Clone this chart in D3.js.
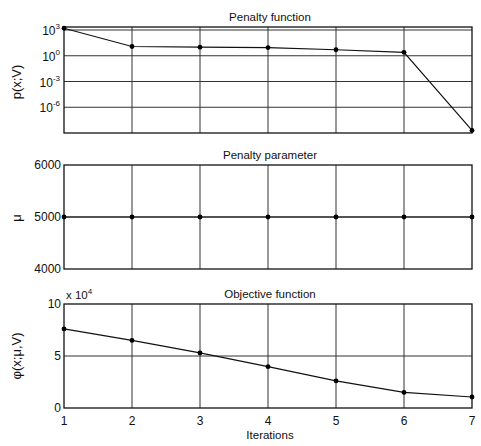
<!DOCTYPE html>
<html>
<head>
<meta charset="utf-8">
<script src="https://cdn.jsdelivr.net/npm/d3@7"></script>
<style>
  body { margin: 0; background: #fff; }
  text { font-family: "Liberation Sans", Arial, sans-serif; fill: #111; }
</style>
</head>
<body>
<svg id="chart" width="481" height="446"></svg>
<script>
// values
var iterations = [1, 2, 3, 4, 5, 6, 7];
var penaltyFn = [1600, 12, 10, 9, 5, 2.5, 2e-9];
var penaltyParam = [5000, 5000, 5000, 5000, 5000, 5000, 5000];
var objective = [76000, 65000, 53000, 39700, 26000, 15000, 10600];
var penaltyTicks = [1e3, 1, 1e-3, 1e-6];
var penaltyTickExp = ["3", "0", "-3", "-6"];
var paramTicks = [4000, 5000, 6000];
var objTicks = [0, 5, 10];

var svg = d3.select("#chart");
var left = 64, right = 472;
var x = d3.scaleLinear().domain([1, 7]).range([left, right]);

function panel(top, bottom, y, yticks, title) {
  var g = svg.append("g");
  // vertical grid
  g.selectAll("line.vg").data(iterations.slice(1, -1)).enter().append("line")
    .attr("x1", d => x(d)).attr("x2", d => x(d))
    .attr("y1", top).attr("y2", bottom)
    .attr("stroke", "#333").attr("stroke-width", 1);
  // horizontal grid
  g.selectAll("line.hg").data(yticks).enter().append("line")
    .attr("x1", left).attr("x2", right)
    .attr("y1", d => y(d)).attr("y2", d => y(d))
    .attr("stroke", "#333").attr("stroke-width", 1);
  g.append("rect")
    .attr("x", left).attr("y", top)
    .attr("width", right - left).attr("height", bottom - top)
    .attr("fill", "none").attr("stroke", "#111").attr("stroke-width", 1.3);
  svg.append("text")
    .attr("x", (left + right) / 2 + 2).attr("y", top - 6)
    .attr("text-anchor", "middle").attr("font-size", 11.5)
    .text(title);
  return g;
}

function series(g, y, vals) {
  var pts = iterations.map((d, i) => [x(d), y(vals[i])]);
  g.append("path")
    .attr("d", d3.line()(pts))
    .attr("fill", "none").attr("stroke", "#111").attr("stroke-width", 1.2);
  g.selectAll("circle").data(pts).enter().append("circle")
    .attr("cx", d => d[0]).attr("cy", d => d[1]).attr("r", 2.4)
    .attr("fill", "#000");
}

function ylabel(txt, cy) {
  svg.append("text")
    .attr("transform", "translate(21," + cy + ") rotate(-90)")
    .attr("text-anchor", "middle").attr("font-size", 13)
    .text(txt);
}

// panel 1: penalty function (log)
var y1 = d3.scaleLog().domain([1e-9, Math.pow(10, 3.35)]).range([133, 27]);
var g1 = panel(27, 133, y1, penaltyTicks, "Penalty function");
series(g1, y1, penaltyFn);
penaltyTicks.forEach(function (t, i) {
  var tx = svg.append("text")
    .attr("x", 60).attr("y", y1(t) + 5)
    .attr("text-anchor", "end").attr("font-size", 12);
  tx.append("tspan").text("10");
  tx.append("tspan").attr("dy", -6).attr("font-size", 8).text(penaltyTickExp[i]);
});
ylabel("p(x;V)", 82);

// panel 2: penalty parameter
var y2 = d3.scaleLinear().domain([4000, 6000]).range([269, 165]);
var g2 = panel(165, 269, y2, [5000], "Penalty parameter");
series(g2, y2, penaltyParam);
svg.selectAll("text.t2").data(paramTicks).enter().append("text")
  .attr("x", 61).attr("y", d => y2(d) + 4)
  .attr("text-anchor", "end").attr("font-size", 12)
  .text(d => d);
ylabel("\u03bc", 218);

// panel 3: objective function
var y3 = d3.scaleLinear().domain([0, 10]).range([408, 304]);
var g3 = panel(304, 408, y3, [5], "Objective function");
series(g3, y3, objective.map(v => v / 1e4));
svg.selectAll("text.t3").data(objTicks).enter().append("text")
  .attr("x", 61).attr("y", d => y3(d) + 4)
  .attr("text-anchor", "end").attr("font-size", 12)
  .text(d => d);
var ex = svg.append("text").attr("x", 66).attr("y", 299).attr("font-size", 11.5);
ex.append("tspan").text("x 10");
ex.append("tspan").attr("dy", -5).attr("font-size", 8).text("4");
ylabel("\u03c6(x;\u03bc,V)", 356);

// x axis labels
svg.selectAll("text.xt").data(iterations).enter().append("text")
  .attr("x", d => x(d)).attr("y", 425)
  .attr("text-anchor", "middle").attr("font-size", 12)
  .text(d => d);
svg.append("text")
  .attr("x", (left + right) / 2 + 2).attr("y", 439)
  .attr("text-anchor", "middle").attr("font-size", 11.5)
  .text("Iterations");
</script>
</body>
</html>
